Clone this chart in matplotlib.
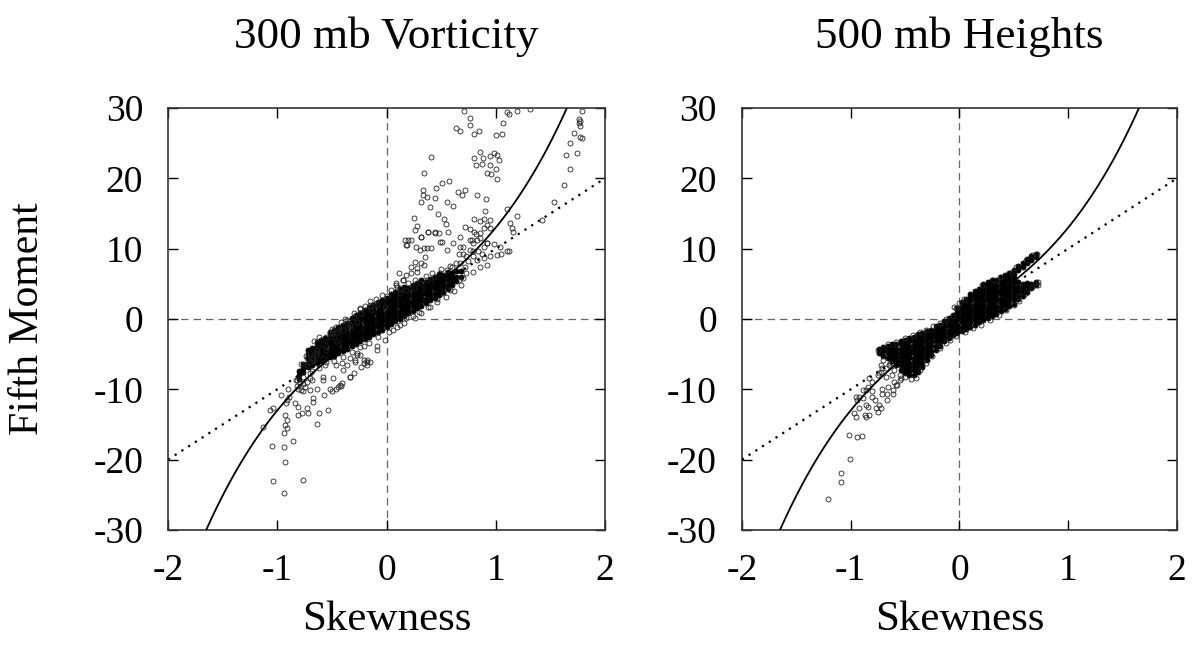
import numpy as np
import matplotlib.pyplot as plt

plt.rcParams['font.family'] = ['Liberation Serif', 'DejaVu Serif']
plt.rcParams['axes.unicode_minus'] = False

titles = ['300 mb Vorticity', '500 mb Heights']
x_label = 'Skewness'
y_label = 'Fifth Moment'
x_ticks = [-2, -1, 0, 1, 2]
y_ticks = [-30, -20, -10, 0, 10, 20, 30]

# gamma relation M5 = 10 S + 3 S^3 and its small-skewness limit M5 = 10 S
curve_coef = (10.0, 3.0)
line_slope = 10.0

# ---- 300 mb vorticity: dense core, read column by column (skewness, [fifth moment])
vort_core = [
    (-0.80, [-8.6, -8.0, -7.4]),
    (-0.76, [-7.6, -7.0, -6.4]),
    (-0.72, [-6.8, -6.2, -5.6, -5.0, -4.4]),
    (-0.68, [-6.5, -5.9, -5.3, -4.7, -4.1]),
    (-0.64, [-6.2, -5.6, -5.0, -4.4, -3.9, -3.3]),
    (-0.60, [-6.0, -5.4, -4.8, -4.2, -3.6, -3.0]),
    (-0.56, [-5.7, -5.1, -4.5, -3.9, -3.3, -2.7]),
    (-0.52, [-5.4, -4.8, -4.2, -3.6, -3.0, -2.5, -1.9]),
    (-0.48, [-5.2, -4.6, -4.0, -3.4, -2.8, -2.2, -1.6]),
    (-0.44, [-4.8, -4.2, -3.6, -3.0, -2.4, -1.8, -1.2]),
    (-0.40, [-4.5, -3.9, -3.3, -2.7, -2.1, -1.5, -0.9]),
    (-0.36, [-4.2, -3.6, -3.0, -2.4, -1.8, -1.2, -0.6]),
    (-0.32, [-3.9, -3.3, -2.7, -2.1, -1.5, -0.9, -0.4, 0.2]),
    (-0.28, [-3.5, -2.9, -2.3, -1.7, -1.1, -0.5, 0.0, 0.6]),
    (-0.24, [-3.2, -2.6, -2.0, -1.4, -0.8, -0.2, 0.3, 0.9]),
    (-0.20, [-2.9, -2.3, -1.7, -1.1, -0.5, 0.1, 0.7, 1.3]),
    (-0.16, [-2.5, -1.9, -1.3, -0.7, -0.1, 0.5, 1.1, 1.7]),
    (-0.12, [-2.2, -1.6, -1.0, -0.4, 0.2, 0.8, 1.4, 2.0]),
    (-0.08, [-1.8, -1.2, -0.6, 0.0, 0.6, 1.2, 1.8, 2.4]),
    (-0.04, [-1.5, -0.9, -0.3, 0.3, 0.9, 1.5, 2.1, 2.7]),
    (0.00, [-1.2, -0.6, 0.0, 0.6, 1.2, 1.8, 2.4, 3.0]),
    (0.04, [-0.7, -0.1, 0.5, 1.1, 1.7, 2.3, 2.9, 3.5]),
    (0.08, [-0.3, 0.3, 0.9, 1.5, 2.1, 2.7, 3.2, 3.8]),
    (0.12, [0.0, 0.6, 1.2, 1.8, 2.4, 3.0, 3.6, 4.2]),
    (0.16, [0.4, 1.0, 1.6, 2.2, 2.8, 3.4, 3.9, 4.5]),
    (0.20, [0.8, 1.4, 2.0, 2.6, 3.2, 3.8, 4.4]),
    (0.24, [1.2, 1.8, 2.4, 3.0, 3.6, 4.2, 4.8]),
    (0.28, [1.5, 2.1, 2.7, 3.3, 3.9, 4.5, 5.1]),
    (0.32, [1.9, 2.5, 3.1, 3.7, 4.3, 4.9, 5.5]),
    (0.36, [2.3, 2.9, 3.5, 4.1, 4.7, 5.3]),
    (0.40, [2.7, 3.3, 3.9, 4.5, 5.1, 5.7]),
    (0.44, [3.0, 3.6, 4.2, 4.8, 5.4, 6.0]),
    (0.48, [3.4, 4.0, 4.6, 5.2, 5.8, 6.4]),
    (0.52, [3.9, 4.5, 5.1, 5.7, 6.3]),
    (0.56, [4.3, 4.9, 5.5, 6.1, 6.7]),
    (0.60, [4.8, 5.4, 6.0, 6.6]),
    (0.64, [5.4, 6.0, 6.8]),
    (0.68, [6.0, 6.8]),
]

# ---- 300 mb vorticity: individual points around the core (skewness, fifth moment)
vort_points = [
    (0.71, 29.6), (0.76, 28.6), (0.76, 27.6), (0.64, 27.1), (0.67, 26.7), (0.85, 26.7),
    (0.80, 26.3), (1.07, 27.8), (1.10, 29.4), (1.12, 29.1), (1.19, 29.6), (1.31, 29.9),
    (1.00, 26.2), (1.06, 26.3), (0.41, 23.1), (0.34, 20.8), (0.86, 23.8), (0.80, 22.9),
    (0.88, 22.9), (0.82, 21.9), (0.87, 22.1), (0.98, 23.6), (1.01, 23.3), (0.95, 23.2),
    (1.03, 22.6), (0.95, 21.9), (1.00, 21.3), (0.92, 20.8), (0.96, 20.6), (1.01, 19.9),
    (0.51, 19.4), (0.57, 19.6), (0.33, 18.4), (0.45, 18.6), (0.33, 17.6), (0.37, 17.4),
    (0.44, 17.2), (0.65, 18.0), (0.69, 17.6), (0.72, 18.4), (0.83, 17.6), (0.91, 17.1),
    (0.32, 16.7), (0.40, 15.9), (0.55, 16.7), (0.61, 16.0), (0.90, 15.3), (1.10, 15.6),
    (1.19, 14.7), (0.25, 14.3), (0.28, 13.2), (0.47, 14.9), (0.53, 14.2), (0.54, 13.5),
    (0.80, 14.2), (0.86, 14.0), (0.89, 14.2), (0.72, 13.1), (0.76, 12.8), (0.80, 12.4),
    (0.38, 12.3), (0.44, 12.4), (0.48, 12.2), (0.56, 12.4), (1.13, 13.6), (1.15, 12.9),
    (1.16, 12.4), (0.95, 12.9), (0.17, 11.3), (0.22, 11.3), (0.19, 10.5), (0.32, 11.6),
    (0.27, 10.3), (0.34, 10.1), (0.41, 10.1), (0.51, 11.0), (0.67, 11.7), (0.76, 11.2),
    (0.86, 11.5), (0.92, 10.8), (0.98, 10.7), (1.04, 10.3), (1.10, 9.6), (1.12, 9.7),
    (1.42, 14.1), (1.53, 16.7), (1.62, 19.1), (1.68, 21.3), (1.74, 23.6), (1.64, 23.3),
    (1.68, 25.0), (1.72, 26.5), (1.77, 27.4), (1.77, 25.9), (1.79, 25.7), (1.76, 28.5),
    (1.77, 28.2), (1.79, 29.6), (1.76, 27.9),
    (0.67, 10.3), (0.70, 9.3), (0.73, 8.9), (0.76, 9.8), (0.79, 10.8), (0.83, 11.2),
    (0.86, 12.2), (0.89, 12.9), (0.92, 13.4), (0.95, 14.1), (0.67, 7.9), (0.72, 7.4),
    (0.75, 8.3), (0.79, 8.9), (0.84, 9.6), (0.89, 10.3), (0.83, 8.4), (0.89, 8.6),
    (0.95, 8.9), (1.01, 9.1), (1.05, 9.3), (0.86, 7.4), (0.92, 7.7), (0.73, 6.5),
    (0.79, 6.7), (0.66, 5.5), (0.70, 5.8), (0.09, 5.1), (0.15, 5.5), (0.22, 6.5),
    (0.28, 7.2), (0.34, 7.7), (0.12, 3.7), (0.18, 4.1), (0.25, 4.6), (0.31, 5.1),
    (0.37, 5.5), (0.43, 6.0), (0.49, 6.5), (0.55, 7.0), (0.60, 7.4), (-0.01, 1.75),
    (0.00, 3.2),
    (-0.24, 1.4), (-0.15, 2.0), (-0.11, 2.1), (-0.14, 1.3), (0.09, 4.8), (0.15, 5.5),
    (0.12, 4.4), (0.11, 6.6), (0.18, 6.3), (0.22, 7.4), (0.28, 6.7), (0.26, 8.1),
    (0.32, 7.9), (0.35, 8.8), (0.31, 9.8), (0.37, 10.1), (0.18, 10.5), (0.20, 11.3),
    (0.26, 12.6), (0.32, 11.7), (0.38, 12.4), (0.44, 12.2), (0.49, 11.0), (0.55, 9.8),
    (0.61, 10.8), (0.66, 9.3), (0.70, 10.3), (0.78, 11.2), (0.82, 12.1), (0.79, 9.6),
    (0.87, 9.3), (0.92, 10.8),
    (-0.35, -0.6), (-0.33, -1.3), (-0.09, -3.9), (-0.01, -3.0), (0.06, -1.6), (0.12, -0.9),
    (0.18, 0.1), (0.26, 0.2), (0.32, 0.8), (0.40, 1.7), (0.46, 2.9), (0.52, 3.7),
    (0.58, 4.1), (-0.27, -5.1), (-0.18, -5.8), (-0.29, -6.1), (-0.21, -6.3), (-0.33, -8.2),
    (-0.43, -9.4), (-0.58, -8.2), (-0.70, -7.7), (-0.73, -5.6), (-0.65, -5.1), (-0.55, -4.4),
    (-0.46, -3.2), (-0.52, -2.5), (-0.49, -2.0), (-0.15, 2.5),
    (-0.58, -8.7), (-0.49, -8.4), (-0.52, -9.9), (-0.44, -9.6), (-0.41, -9.1), (-0.30, -7.7),
    (-0.23, -6.8), (-0.18, -6.5), (-0.15, -6.1), (-0.09, -4.4), (-0.21, -3.9), (-0.27, -4.9),
    (-0.33, -5.6), (-0.36, -6.5), (-0.70, -4.9), (-0.64, -4.4), (-0.67, -5.8), (-0.58, -3.5),
    (-0.55, -2.5), (-0.46, -2.0), (-0.40, -1.6), (-0.33, -0.85), (-0.27, -0.4), (-0.52, -2.0),
    (-0.46, -1.1), (-0.36, -0.1), (-0.30, 0.3), (-0.23, 0.8), (-0.15, 1.75), (-0.09, 2.0),
    (-0.82, -8.7), (-0.79, -9.1), (-0.76, -8.2), (-0.73, -8.9), (-0.70, -8.4), (-0.81, -9.9),
    (-0.75, -9.6),
    (-1.05, -18.0), (-0.94, -18.2), (-0.93, -20.4), (-1.04, -23.1), (-0.94, -24.7), (-0.76, -22.9),
    (-0.86, -17.4), (-1.13, -15.4), (-1.07, -13.0), (-1.04, -12.7), (-0.97, -10.8), (-0.93, -13.7),
    (-0.91, -14.3), (-0.93, -15.1), (-0.94, -16.2), (-0.91, -15.5), (-0.91, -11.5), (-0.89, -11.1),
    (-0.92, -12.0), (-0.84, -12.0), (-0.81, -12.5), (-0.81, -13.6), (-0.77, -13.3), (-0.72, -13.3),
    (-0.64, -14.9), (-0.73, -12.6), (-0.67, -11.3), (-0.67, -11.8), (-0.62, -13.4), (-0.54, -13.0),
    (-0.57, -10.8), (-0.50, -10.2), (-0.46, -9.9), (-0.42, -9.5), (-0.33, -8.2), (-0.90, -9.9),
    (-0.82, -9.5), (-0.78, -10.1), (-0.76, -10.3), (-0.70, -10.1), (-0.64, -10.0), (-0.83, -8.7),
    (-0.68, -8.7), (-0.73, -6.5), (-0.70, -6.1), (-0.64, -4.9), (-0.67, -5.6), (-0.58, -5.6),
    (-0.55, -6.1), (-0.46, -6.5), (-0.41, -6.3), (-0.40, -7.3), (-0.21, -5.8), (-0.18, -6.1),
    (-0.24, -5.1), (-0.29, -5.8), (-0.24, 1.5),
    # just outside the core band
    (-0.78, -6.4), (-0.74, -5.2), (-0.66, -3.2), (-0.62, -2.6), (-0.50, -1.4), (-0.42, -0.5),
    (-0.38, 0.0), (-0.30, 0.9), (-0.20, 1.9), (-0.10, 2.8), (-0.04, 3.4), (0.04, 4.1),
    (0.10, 4.5), (0.20, 5.1), (0.26, 5.6), (0.36, 6.1), (0.42, 6.6), (0.50, 7.1),
    (0.58, 7.6), (0.64, 8.0),
    (-0.76, -9.3), (-0.68, -7.4), (-0.62, -6.9), (-0.56, -6.5), (-0.48, -6.0), (-0.40, -5.4),
    (-0.32, -4.7), (-0.24, -4.0), (-0.16, -3.4), (-0.08, -2.6), (0.02, -1.8), (0.10, -1.2),
    (0.16, -0.6), (0.24, 0.4), (0.30, 1.0), (0.38, 1.7), (0.46, 2.4), (0.54, 3.1),
    (0.62, 4.0), (0.68, 4.8),
]

# ---- 500 mb heights: dense core, column by column
hgt_core = [
    (-0.74, [-4.8, -4.3]),
    (-0.70, [-5.2, -4.6, -4.0]),
    (-0.66, [-5.5, -4.9, -4.3, -3.8]),
    (-0.62, [-6.0, -5.4, -4.8, -4.2, -3.6]),
    (-0.58, [-6.6, -6.0, -5.4, -4.8, -4.2, -3.6]),
    (-0.54, [-7.2, -6.6, -6.0, -5.4, -4.8, -4.2, -3.6, -3.2]),
    (-0.50, [-7.7, -7.1, -6.5, -5.9, -5.3, -4.7, -4.1, -3.5, -3.0]),
    (-0.46, [-8.0, -7.4, -6.8, -6.2, -5.6, -5.0, -4.4, -3.8, -3.2, -2.7]),
    (-0.42, [-7.9, -7.3, -6.7, -6.1, -5.5, -4.9, -4.3, -3.7, -3.1, -2.5]),
    (-0.38, [-7.5, -6.9, -6.3, -5.7, -5.1, -4.5, -3.9, -3.3, -2.7, -2.2]),
    (-0.34, [-6.8, -6.2, -5.6, -5.0, -4.4, -3.8, -3.2, -2.6, -2.0]),
    (-0.30, [-5.9, -5.3, -4.7, -4.1, -3.5, -2.9, -2.3, -1.7]),
    (-0.26, [-5.1, -4.5, -3.9, -3.3, -2.7, -2.1, -1.5]),
    (-0.22, [-4.4, -3.8, -3.2, -2.6, -2.0, -1.4, -1.0]),
    (-0.18, [-3.8, -3.2, -2.6, -2.0, -1.4, -0.8]),
    (-0.14, [-3.2, -2.6, -2.0, -1.4, -0.8, -0.3]),
    (-0.10, [-2.7, -2.1, -1.5, -0.9, -0.3, 0.2]),
    (-0.06, [-2.3, -1.7, -1.1, -0.5, 0.1, 0.6]),
    (-0.02, [-2.0, -1.4, -0.8, -0.2, 0.4, 1.0, 1.5]),
    (0.02, [-1.7, -1.1, -0.5, 0.1, 0.7, 1.3, 1.9, 2.4]),
    (0.06, [-1.4, -0.8, -0.2, 0.4, 1.0, 1.6, 2.2, 2.8]),
    (0.10, [-1.1, -0.5, 0.1, 0.7, 1.3, 1.9, 2.5, 3.1, 3.6]),
    (0.14, [-0.8, -0.2, 0.4, 1.0, 1.6, 2.2, 2.8, 3.4, 4.0]),
    (0.18, [-0.5, 0.1, 0.7, 1.3, 1.9, 2.5, 3.1, 3.7, 4.3]),
    (0.22, [-0.2, 0.4, 1.0, 1.6, 2.2, 2.8, 3.4, 4.0, 4.6, 5.0]),
    (0.26, [0.1, 0.7, 1.3, 1.9, 2.5, 3.1, 3.7, 4.3, 4.9, 5.3]),
    (0.30, [0.4, 1.0, 1.6, 2.2, 2.8, 3.4, 4.0, 4.6, 5.2, 5.6]),
    (0.34, [0.7, 1.3, 1.9, 2.5, 3.1, 3.7, 4.3, 4.9, 5.5]),
    (0.38, [1.1, 1.7, 2.3, 2.9, 3.5, 4.1, 4.7, 5.3, 5.9]),
    (0.42, [1.4, 2.0, 2.6, 3.2, 3.8, 4.4, 5.0, 5.6, 6.2]),
    (0.46, [1.9, 2.5, 3.1, 3.7, 4.3, 4.9, 5.5, 6.1, 6.6]),
    (0.50, [2.2, 2.8, 3.4, 4.0, 4.6, 5.2, 5.8, 6.4, 7.0]),
    (0.54, [2.8, 3.4, 4.0, 4.6, 5.2, 6.9, 7.5]),
    (0.58, [3.2, 3.8, 4.4, 5.0, 7.4, 8.0]),
    (0.62, [3.9, 4.5, 5.1, 7.9, 8.5]),
    (0.66, [4.4, 5.0, 8.4, 9.0]),
    (0.70, [4.8, 5.3, 8.8, 9.3]),
]

# ---- 500 mb heights: individual points
hgt_points = [
    (-0.75, -4.4), (-0.66, -3.6), (-0.58, -3.3), (-0.50, -2.7), (-0.43, -2.3), (-0.36, -1.8),
    (-0.31, -1.5), (-0.24, -1.0), (-0.18, -0.6), (-0.12, 0.0), (-0.06, 0.4), (-0.03, 1.5),
    (-0.05, 1.7), (0.00, 2.3), (0.04, 2.9), (0.21, 4.8), (0.31, 5.5), (0.37, 6.0),
    (0.48, 6.7), (0.52, 7.4), (0.61, 8.4), (0.67, 9.1), (0.71, 9.3),
    (-0.36, -7.2), (-0.31, -6.3), (-0.25, -5.3), (-0.18, -4.1), (-0.12, -3.4), (-0.09, -3.0),
    (-0.03, -2.4), (0.05, -1.8), (0.12, -1.3), (0.20, -0.8), (0.28, -0.2), (0.36, 0.5),
    (0.43, 1.3), (0.50, 2.0), (0.55, 2.6), (0.55, 3.2), (0.61, 3.7), (0.67, 4.6),
    (0.72, 5.2), (0.72, 4.9),
    (-0.55, -8.0), (-0.50, -8.3), (-0.45, -8.5), (-0.40, -8.4), (-0.60, -7.3), (-0.65, -6.5),
    (-0.70, -5.9), (-0.72, -6.5), (-0.68, -7.0),
    (-1.21, -25.6), (-1.09, -21.9), (-1.09, -23.2), (-1.01, -19.9), (-1.02, -16.5), (-0.94, -16.8),
    (-0.90, -16.7), (-0.97, -13.4), (-0.95, -13.9), (-0.87, -13.7), (-0.86, -13.9), (-0.92, -12.7),
    (-0.84, -12.5), (-0.83, -13.7), (-0.94, -11.5), (-0.92, -11.1), (-0.89, -11.3), (-0.86, -12.2),
    (-0.80, -11.1), (-0.78, -11.5), (-0.77, -12.7), (-0.75, -13.2), (-0.74, -12.2), (-0.72, -12.7),
    (-0.89, -10.1), (-0.84, -9.6), (-0.80, -8.9), (-0.83, -8.4), (-0.80, -10.3), (-0.71, -10.6),
    (-0.67, -11.5), (-0.71, -9.9), (-0.66, -9.6), (-0.61, -10.1), (-0.60, -8.9), (-0.57, -9.4),
    (-0.55, -8.7), (-0.54, -8.4), (-0.75, -8.0), (-0.72, -7.5), (-0.68, -8.2), (-0.62, -8.0),
    (-0.95, -11.1), (-0.86, -10.1), (-0.74, -7.7), (-0.71, -7.0), (-0.64, -6.3), (-0.67, -10.6),
    (-0.61, -10.6), (-0.58, -9.4),
]

panels = [(vort_core, vort_points), (hgt_core, hgt_points)]

fig = plt.figure(figsize=(12, 6.49), dpi=100)
ax1 = fig.add_axes([0.14, 0.1834, 0.3642, 0.6502])
ax2 = fig.add_axes([0.6183, 0.1834, 0.3625, 0.6502])

s = np.linspace(-2, 2, 400)

for ax, title, (core, pts) in zip([ax1, ax2], titles, panels):
    # zero lines
    ax.axhline(0, color='#666666', lw=0.9, ls=(0, (6, 4)), zorder=1)
    ax.axvline(0, color='#666666', lw=0.9, ls=(0, (6, 4)), zorder=1)

    # theory curves
    ax.plot(s, curve_coef[0] * s + curve_coef[1] * s ** 3, color='black', lw=1.3, zorder=3)
    ax.plot(s, line_slope * s, color='black', lw=1.6, ls=(0, (1, 2.6)), zorder=3)

    cx = [x for x, ys in core for _ in ys]
    cy = [y for _, ys in core for y in ys]
    ax.plot(cx, cy, 'o', ls='none', ms=3.6, mfc='black', mec='black', mew=0.6, zorder=2)

    px = [p[0] for p in pts]
    py = [p[1] for p in pts]
    ax.plot(px, py, 'o', ls='none', ms=3.6, mfc='none', mec='#222222', mew=0.6, zorder=2)

    ax.set_xlim(-2, 2)
    ax.set_ylim(-30, 30)
    ax.set_xticks(x_ticks)
    ax.set_yticks(y_ticks)
    ax.tick_params(direction='in', top=True, right=True, length=7, width=1.0,
                   labelsize=27, colors='black')
    ax.tick_params(axis='x', pad=17)
    ax.tick_params(axis='y', pad=18)
    for sp in ax.spines.values():
        sp.set_linewidth(1.2)
        sp.set_color('#333333')

    bb = ax.get_position()
    cxf = (bb.x0 + bb.x1) / 2
    fig.text(cxf, 1 - 48 / 649, title, ha='center', va='baseline', fontsize=32.5)
    fig.text(cxf, 1 - 630 / 649, x_label, ha='center', va='baseline', fontsize=31)

fig.text(28 / 1200, 1 - 319 / 649, y_label, rotation=90, ha='center', va='center', fontsize=30)

fig.savefig('out.png', dpi=100)
